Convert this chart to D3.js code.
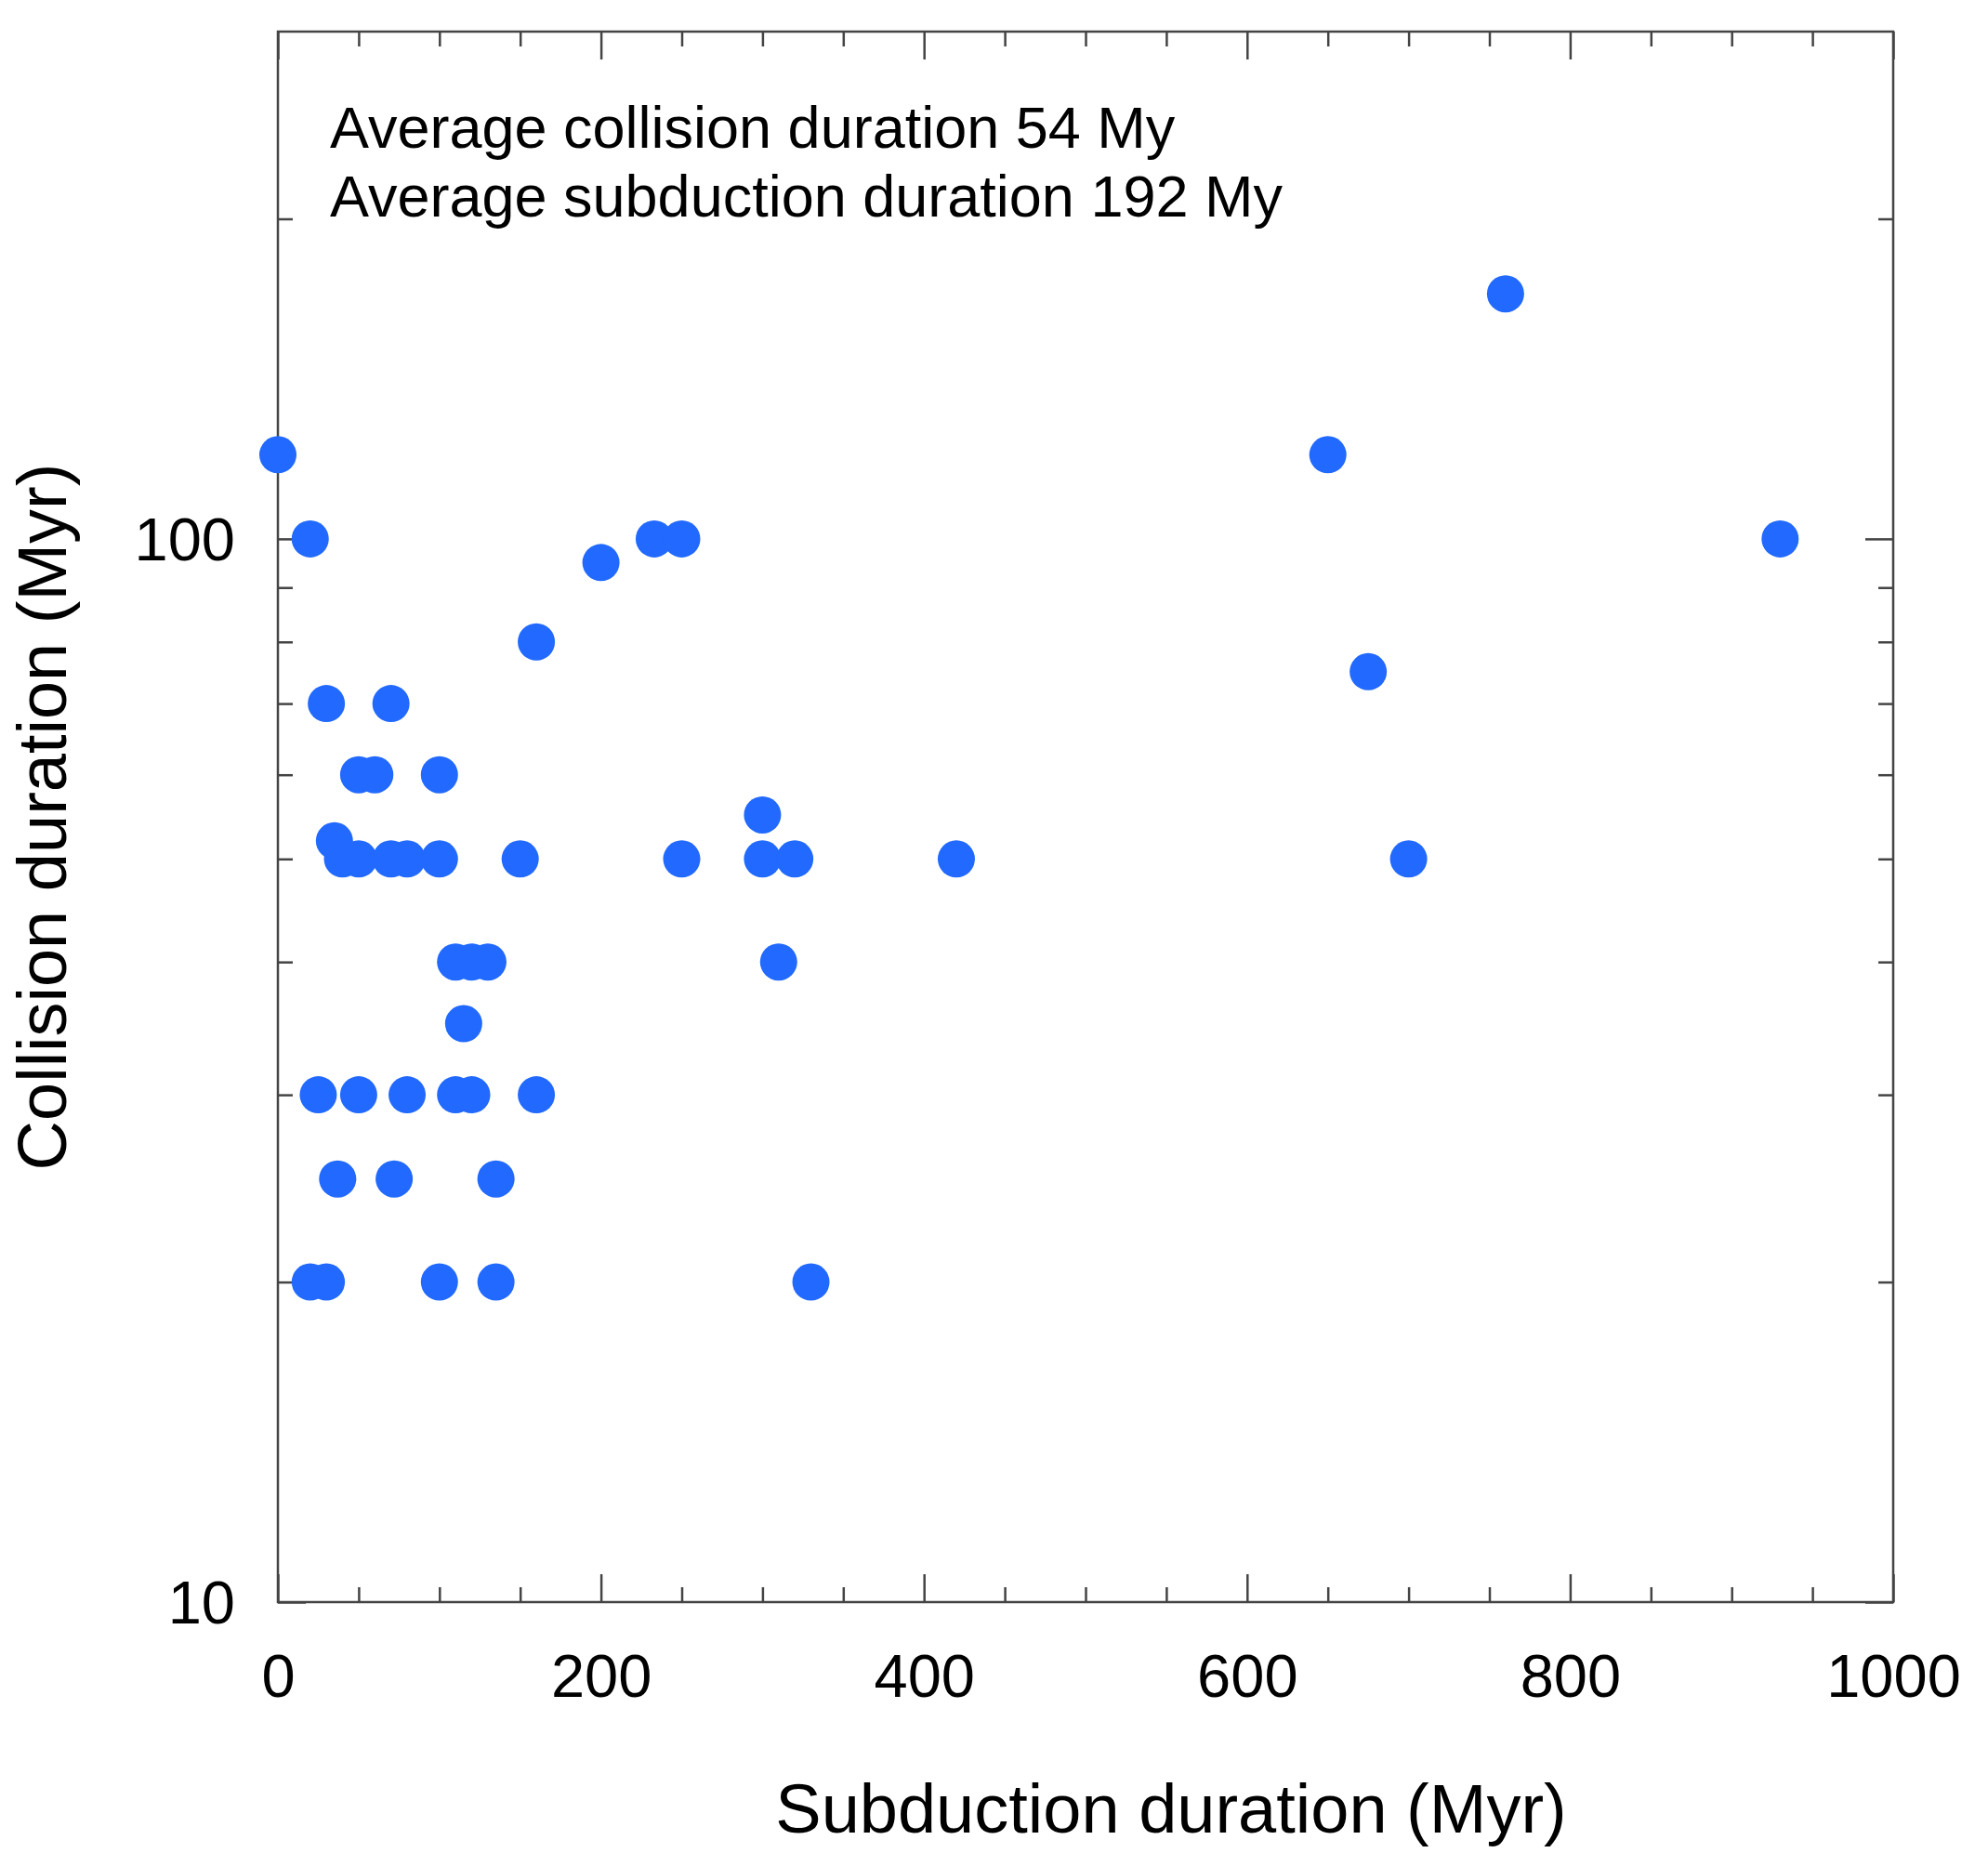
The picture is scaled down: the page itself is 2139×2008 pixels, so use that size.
<!DOCTYPE html>
<html>
<head>
<meta charset="utf-8">
<script src="https://cdn.jsdelivr.net/npm/d3@7"></script>
<style>
  body { margin: 0; background: #fff; }
  svg  { display: block; font-family: "Liberation Sans", Arial, sans-serif; }
</style>
</head>
<body>
<div class="vis"></div>
<script>
// values (Myr)
var subduction = [  0,  20, 233, 250, 200, 160,  30,  70,  50,  60, 100,
                   35,  40,  50,  70,  80, 100, 150, 110, 120, 130, 115,
                   25,  50,  80, 110, 120, 160,  37,  72, 135,  20,  30,
                  100, 135, 330, 300, 250, 300, 320, 420, 310, 760, 650,
                  930, 675, 700];
var collision  = [120, 100, 100, 100,  95,  80,  70,  70,  60,  60,  60,
                   52,  50,  50,  50,  50,  50,  50,  40,  40,  40,  35,
                   30,  30,  30,  30,  30,  30,  25,  25,  25,  20,  20,
                   20,  20,  20,  55,  50,  50,  50,  50,  40, 170, 120,
                  100,  75,  50];

var xMajor = [0, 200, 400, 600, 800, 1000];
var xMinor = [50, 100, 150, 250, 300, 350, 450, 500, 550, 650, 700, 750, 850, 900, 950];
var yMajor = [10, 100];
var yMinor = [20, 30, 40, 50, 60, 70, 80, 90, 200];

var xTitle = "Subduction duration (Myr)";
var yTitle = "Collision duration (Myr)";
var notes  = ["Average collision duration 54 My",
              "Average subduction duration 192 My"];

// layout (plotTop etc. because window.top is read only)
var W = 2139, H = 2008;
var plotLeft = 299, plotRight = 2037, plotTop = 34, plotBottom = 1724;
var major = 30, minor = 16;
var axisColor = "#444";

var svg = d3.select("div.vis")
            .append("svg")
            .attr("width", W)
            .attr("height", H);

var x = d3.scaleLinear().domain([0, 1000]).range([plotLeft, plotRight]);
var y = d3.scaleLog().domain([10, 300]).range([plotBottom, plotTop]);

// ticks on all four sides, pointing inwards
function addAxis(axis, tx, ty) {
    var g = svg.append("g")
               .attr("transform", "translate(" + tx + "," + ty + ")")
               .call(axis);
    g.select(".domain").remove();
    g.selectAll(".tick line").attr("stroke", axisColor).attr("stroke-width", 2.5);
    return g;
}

var xb = addAxis(d3.axisBottom(x).tickValues(xMajor).tickSize(-major).tickFormat(d3.format("d")), 0, plotBottom);
xb.selectAll("text")
  .attr("y", 79)
  .attr("dy", "0.35em")
  .style("font-size", "65px")
  .style("fill", "#000");
addAxis(d3.axisBottom(x).tickValues(xMinor).tickSize(-minor).tickFormat(""), 0, plotBottom);
addAxis(d3.axisTop(x).tickValues(xMajor).tickSize(-major).tickFormat(""), 0, plotTop);
addAxis(d3.axisTop(x).tickValues(xMinor).tickSize(-minor).tickFormat(""), 0, plotTop);

var yl = addAxis(d3.axisLeft(y).tickValues(yMajor).tickSize(-major).tickPadding(46).tickFormat(d3.format("d")), plotLeft, 0);
yl.selectAll("text")
  .attr("dy", "0.35em")
  .style("font-size", "65px")
  .style("fill", "#000");
addAxis(d3.axisLeft(y).tickValues(yMinor).tickSize(-minor).tickFormat(""), plotLeft, 0);
addAxis(d3.axisRight(y).tickValues(yMajor).tickSize(-major).tickFormat(""), plotRight, 0);
addAxis(d3.axisRight(y).tickValues(yMinor).tickSize(-minor).tickFormat(""), plotRight, 0);

// frame
svg.append("rect")
   .attr("x", plotLeft)
   .attr("y", plotTop)
   .attr("width", plotRight - plotLeft)
   .attr("height", plotBottom - plotTop)
   .attr("fill", "none")
   .attr("stroke", axisColor)
   .attr("stroke-width", 2.5);

// points
var points = subduction.map(function(d, i) { return {s: d, c: collision[i]}; });

svg.append("g")
   .selectAll("circle")
   .data(points)
   .enter()
   .append("circle")
   .attr("cx", function(d) { return x(d.s); })
   .attr("cy", function(d) { return y(d.c); })
   .attr("r", 20)
   .attr("fill", "#2169ff");

// annotation
svg.append("g")
   .selectAll("text")
   .data(notes)
   .enter()
   .append("text")
   .attr("x", 355)
   .attr("y", function(d, i) { return 159 + i * 74; })
   .style("font-size", "63px")
   .style("fill", "#000")
   .text(function(d) { return d; });

// axis titles
svg.append("text")
   .attr("x", 1260)
   .attr("y", 1972)
   .attr("text-anchor", "middle")
   .style("font-size", "74px")
   .style("fill", "#000")
   .text(xTitle);

svg.append("text")
   .attr("transform", "translate(71," + ((plotTop + plotBottom) / 2) + ") rotate(-90)")
   .attr("text-anchor", "middle")
   .style("font-size", "74px")
   .style("fill", "#000")
   .text(yTitle);
</script>
</body>
</html>
